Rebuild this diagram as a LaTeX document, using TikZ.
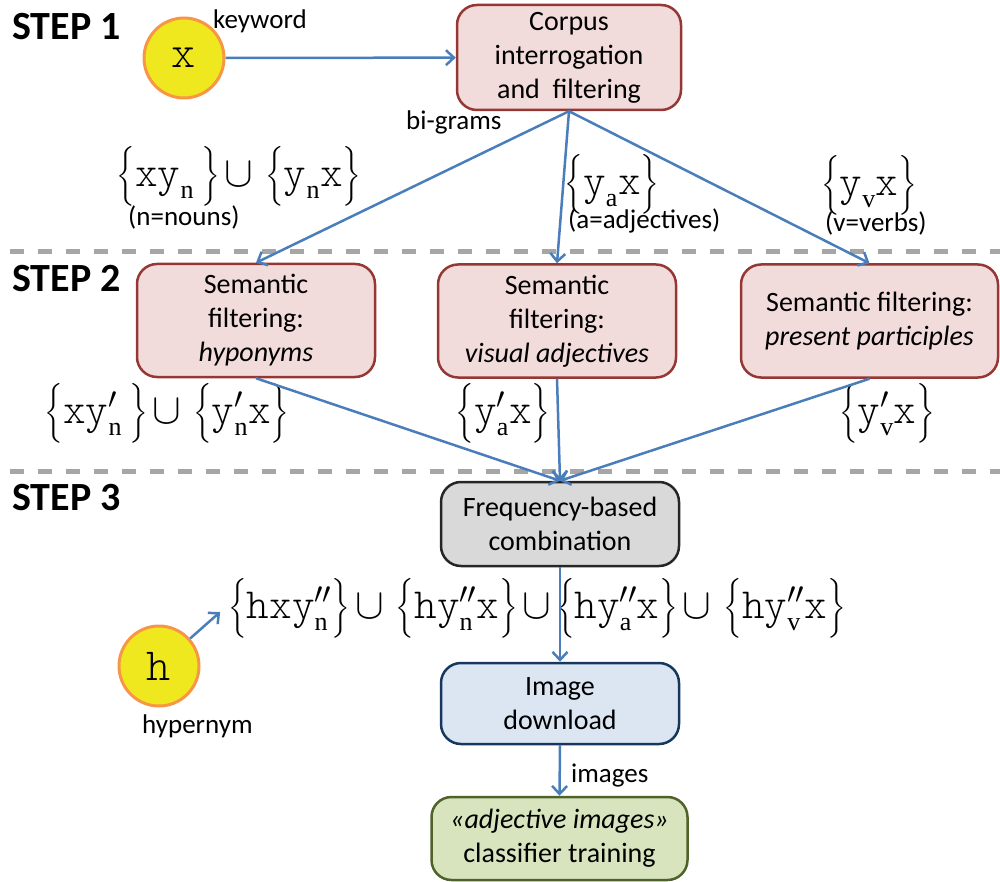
\RequirePackage{fix-cm}
\documentclass[tikz,border=0pt]{standalone}
\usepackage{amsmath}
\usepackage{fontspec}
\setmainfont{Carlito}
\newfontfamily\serif{Liberation Serif}
\newfontfamily\lmono{Latin Modern Mono Light}
\usetikzlibrary{arrows.meta}

\definecolor{redfill}{HTML}{F2DCDB}
\definecolor{redline}{HTML}{953735}
\definecolor{grayfill}{HTML}{D9D9D9}
\definecolor{grayline}{HTML}{262626}
\definecolor{bluefill}{HTML}{DCE6F2}
\definecolor{blueline}{HTML}{17375E}
\definecolor{greenfill}{HTML}{D7E4BD}
\definecolor{greenline}{HTML}{4F6228}
\definecolor{circfill}{HTML}{F0E81E}
\definecolor{circline}{HTML}{F79646}
\definecolor{arrowblue}{HTML}{4A7EBB}
\definecolor{dashgray}{HTML}{A6A6A6}

% letters of the n-gram formulas and their subscripts
\newcommand{\mv}[1]{\text{\lmono #1}}
\newcommand{\ix}[1]{\text{\serif\fontsize{26}{26}\selectfont #1}}
\newcommand{\un}{\mathbin{\cup}}
\newcommand{\boxfont}{\fontsize{28}{34}\selectfont}
\newcommand{\lblfont}{\fontsize{27}{32}\selectfont}
\newcommand{\fmfont}{\fontsize{43}{46}\selectfont\medmuskip=2mu}

\begin{document}
\begin{tikzpicture}[x=1pt,y=-1pt,
  box/.style={draw, rounded corners=20pt, line width=2.5pt, align=center,
    font=\boxfont, inner sep=0pt},
  redbox/.style={box, draw=redline, fill=redfill, minimum height=113pt},
  arr/.style={draw=arrowblue, line width=2.5pt,
    -{Straight Barb[length=8pt,width=15pt,line width=2.5pt]}},
  sep/.style={draw=dashgray, line width=5pt, dash pattern=on 14pt off 14pt},
  circ/.style={circle, draw=circline, fill=circfill, line width=3pt,
    minimum size=80pt, inner sep=0pt, font=\lmono\fontsize{46}{46}\selectfont},
  lbl/.style={anchor=base west, inner sep=0pt, font=\lblfont},
  steplbl/.style={anchor=base west, inner sep=0pt,
    font=\bfseries\fontsize{40}{42}\selectfont},
  formula/.style={inner sep=0pt, font=\fmfont}]
\useasboundingbox (0,0) rectangle (1000,882);

% step separators
\draw[sep] (10,252) -- (1000,252);
\draw[sep] (10,471) -- (1000,471);

% step titles
\node[steplbl] (s1) at (12,40) {STEP 1};
\node[steplbl] (s2) at (12,291) {STEP 2};
\node[steplbl] (s3) at (12,510) {STEP 3};

% step 1
\node[circ] (xc) at (184,58) {x};
\node[lbl] (kw) at (213,29) {keyword};
\node[box, draw=redline, fill=redfill, minimum width=224pt, minimum height=105pt]
  (corpus) at (569,57.5) {Corpus\\interrogation\\and\ \ filtering};
\node[lbl] (bg) at (406,130) {bi-grams};

\node[formula] (f1) at (239,176)
  {$\bigl\{\mv{xy}_{\ix{n}}\,\bigr\}\un\,\bigl\{\mv{y}_{\ix{n}}\mv{x}\bigr\}$};
\node[lbl] (l1) at (128,226) {(n=nouns)};
\node[formula] (f2) at (612,184)
  {$\bigl\{\mv{y}_{\ix{a}}\mv{x}\bigr\}$};
\node[lbl] (l2) at (568,229) {(a=adjectives)};
\node[formula] (f3) at (869,185)
  {$\bigl\{\mv{y}_{\ix{v}}\mv{x}\bigr\}$};
\node[lbl] (l3) at (825,232) {(v=verbs)};

% step 2
\node[redbox, minimum width=238pt] (sem1) at (256,320.5)
  {Semantic\\filtering:\\\textit{hyponyms}};
\node[redbox, minimum width=238pt] (sem2) at (557,321)
  {Semantic\\filtering:\\\textit{visual adjectives}};
\node[redbox, minimum width=257pt] (sem3) at (869.5,321)
  {Semantic filtering:\\\textit{present participles}};

\node[formula] (f4) at (167,413)
  {$\bigl\{\mv{xy}'_{\ix{n}}\,\bigr\}\un\,\bigl\{\mv{y}'_{\ix{n}}\mv{x}\bigr\}$};
\node[formula] (f5) at (503,413)
  {$\bigl\{\mv{y}'_{\ix{a}}\mv{x}\bigr\}$};
\node[formula] (f6) at (887,413)
  {$\bigl\{\mv{y}'_{\ix{v}}\mv{x}\bigr\}$};

% step 3
\node[box, draw=grayline, fill=grayfill, minimum width=238pt, minimum height=84pt]
  (freq) at (560,524) {Frequency-based\\combination};
\node[formula] (f7) at (537,608)
  {$\bigl\{\mv{hxy}''_{\ix{n}}\bigr\}\un\,\bigl\{\mv{hy}''_{\ix{n}}\mv{x}\bigr\}\un
    \bigl\{\mv{hy}''_{\ix{a}}\mv{x}\bigr\}\un\,\bigl\{\mv{hy}''_{\ix{v}}\mv{x}\bigr\}$};
\node[circ] (hc) at (159,666) {h};
\node[lbl] (hl) at (142,733) {hypernym};
\node[box, draw=blueline, fill=bluefill, minimum width=238pt, minimum height=81pt]
  (img) at (560,703.5) {Image\\download};
\node[lbl] (il) at (571,782) {images};
\node[box, draw=greenline, fill=greenfill, minimum width=256pt, minimum height=83pt]
  (train) at (559.5,838.5) {\textit{«adjective images»}\\classifier training};

% connectors
\draw[arr] (xc) -- (corpus);
\draw[arr] (corpus.south) -- (sem1.north);
\draw[arr] (corpus.south) -- (sem2.north);
\draw[arr] (corpus.south) -- (sem3.north);
\draw[arr] (sem1.south) -- (freq.north);
\draw[arr] (sem2.south) -- (freq.north);
\draw[arr] (sem3.south) -- (freq.north);
\draw[arr] (freq.south) -- (img.north);
\draw[arr] (img.south) -- (train.north);
\draw[arr] (hc) -- ([xshift=-8pt,yshift=-4pt]f7.west);
\end{tikzpicture}
\end{document}
